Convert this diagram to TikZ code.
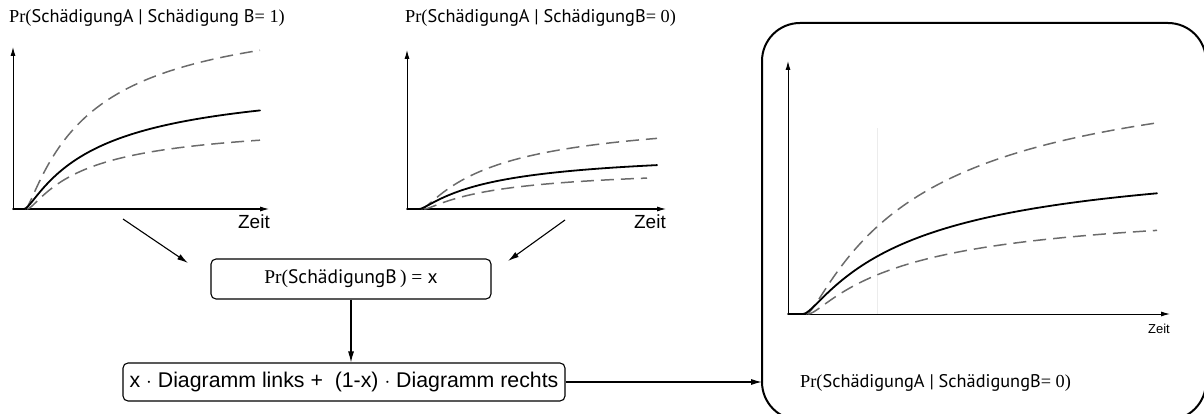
\documentclass[tikz,border=0pt]{standalone}
\usepackage{fontspec}
\setmainfont{PT Sans}
\newfontfamily\myr{Liberation Serif}
\newfontfamily\mya{Liberation Sans}
\usetikzlibrary{arrows.meta}
\tikzset{
  axis/.style={line width=1pt,-{Latex[length=9pt,width=5pt]}},
  mean/.style={line width=1.8pt,line cap=round},
  band/.style={line width=1.5pt,black!58,dash pattern=on 13pt off 7pt},
  ttl/.style={anchor=west,inner sep=0pt,font=\fontsize{18.3}{21}\selectfont},
  zeit/.style={anchor=north east,inner sep=0pt,font=\mya\fontsize{19}{22}\selectfont},
  flow/.style={line width=1.1pt,-{Latex[length=11pt,width=6pt]}},
  rbox/.style={draw,line width=1.1pt,rounded corners=5pt,inner sep=0pt}
}
% saturating curve: base y, start x0, softness s, amplitude A, half-value c, end x
\newcommand{\satcurve}[7][]{%
  \draw[#1] plot[domain=#3:#7,samples=120,smooth]
    (\x,{#2-#5*(((\x-#3)*((\x-#3)/(\x-#3+#4)))/(((\x-#3)*((\x-#3)/(\x-#3+#4)))+#6))});}
\begin{document}
\begin{tikzpicture}[x=1pt,y=-1pt]
\useasboundingbox (0,0) rectangle (1204,414);
% ---- left chart
\node[ttl] (t1) at (9,18) {{\myr Pr(}SchädigungA | Schädigung B{\myr= 1)}};
\draw[axis] (13,210) -- (13,47);
\draw[axis] (13,209) -- (269,209);
\node[zeit] (z1) at (270,215) {Zeit};
\satcurve[band]{209}{25}{5}{207}{70}{260}
\satcurve[band]{209}{27}{6}{88.5}{65}{260}
\draw[mean] (13,209) -- (24,209);
\satcurve[mean]{209}{24}{6}{132}{78}{260}
% ---- middle chart
\node[ttl] (t2) at (405,18) {{\myr Pr(}SchädigungA | SchädigungB{\myr= 0)}};
\draw[axis] (407,210) -- (407,50);
\draw[axis] (407,209) -- (666,209);
\node[zeit] (z2) at (666,215) {Zeit};
\satcurve[band]{209}{421}{6}{96.4}{84}{657}
\satcurve[band]{209}{424}{6}{42.6}{82}{647}
\draw[mean] (407,209) -- (419,209);
\satcurve[mean]{209}{419}{6}{59.2}{81}{657}
% ---- flow boxes
\node[rbox,minimum width=280pt,minimum height=40pt,font=\fontsize{19.5}{22}\selectfont] (pb) at (351,279) {{\myr Pr(}SchädigungB{\myr\,) =} x};
\node[rbox,minimum width=442pt,minimum height=38pt,font=\mya\fontsize{21.3}{24}\selectfont] (mix) at (344,382) {x $\cdot$ Diagramm links +\ \ (1-x) $\cdot$ Diagramm rechts};
\coordinate (a1s) at (123,219);
\coordinate (a1e) at (188,263);
\coordinate (a2s) at (565,220);
\coordinate (a2e) at (508,261);
\draw[flow] (a1s) -- (a1e);
\draw[flow] (a2s) -- (a2e);
\draw[flow] (pb.south) -- (pb.south |- mix.north);
% ---- result box
\draw[line width=2pt,rounded corners=38pt] (762,23) rectangle (1206,420);
\coordinate (bigin) at (762,382);
\draw[flow] (mix.east) -- (bigin);
\draw[gray!15,line width=0.6pt] (877,128) -- (877,314);
\draw[axis] (788,315) -- (788,61);
\draw[axis] (788,314) -- (1170,314);
\node[anchor=north east,inner sep=0pt,font=\mya\fontsize{13}{15}\selectfont] (z3) at (1170,324) {Zeit};
\satcurve[band]{314}{806}{9}{261.5}{126}{1157}
\satcurve[band]{314}{808}{9}{111.4}{113}{1157}
\draw[mean] (788,314) -- (803,314);
\satcurve[mean]{314}{803}{9}{163}{121}{1157}
\node[ttl] (t3) at (800,383) {{\myr Pr(}SchädigungA | SchädigungB{\myr= 0)}};
\end{tikzpicture}
\end{document}
